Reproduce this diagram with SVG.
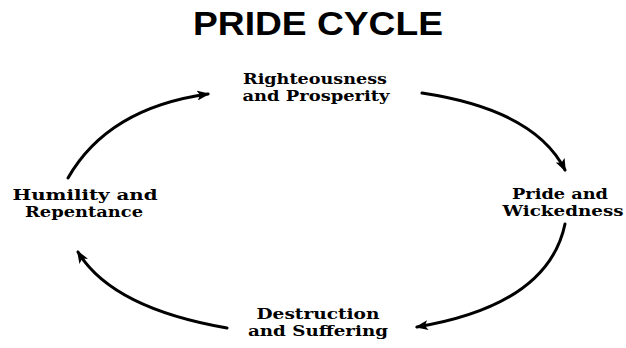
<svg xmlns="http://www.w3.org/2000/svg" width="626" height="348" viewBox="0 0 626 348">
<style>
.title{font-family:"Liberation Sans",Arial,sans-serif;font-weight:bold;font-size:33px;fill:#000}
.lbl{font-family:"DejaVu Serif","Liberation Serif",serif;font-weight:bold;font-size:14px;fill:#000}
.arc{fill:none;stroke:#000;stroke-width:3;stroke-linecap:round}
</style>
<defs>
<marker id="ah" viewBox="0 0 13 10" refX="11" refY="5" markerWidth="13" markerHeight="10" markerUnits="userSpaceOnUse" orient="auto">
<path d="M0,0 L13,5 L0,10 L3,5 Z" fill="#000"/>
</marker>
</defs>
<rect width="626" height="348" fill="#fff"/>
<text class="title" x="318" y="35" text-anchor="middle" textLength="250" lengthAdjust="spacingAndGlyphs">PRIDE CYCLE</text>
<g id="righteousness">
<text class="lbl" x="315" y="84" text-anchor="middle" textLength="144" lengthAdjust="spacingAndGlyphs">Righteousness</text>
<text class="lbl" x="316" y="101" text-anchor="middle" textLength="147" lengthAdjust="spacingAndGlyphs">and Prosperity</text>
</g>
<g id="pride">
<text class="lbl" x="560" y="199" text-anchor="middle" textLength="96" lengthAdjust="spacingAndGlyphs">Pride and</text>
<text class="lbl" x="563" y="216" text-anchor="middle" textLength="121" lengthAdjust="spacingAndGlyphs">Wickedness</text>
</g>
<g id="destruction">
<text class="lbl" x="318" y="319" text-anchor="middle" textLength="123" lengthAdjust="spacingAndGlyphs">Destruction</text>
<text class="lbl" x="318" y="336" text-anchor="middle" textLength="140" lengthAdjust="spacingAndGlyphs">and Suffering</text>
</g>
<g id="humility">
<text class="lbl" x="85" y="200" text-anchor="middle" textLength="145" lengthAdjust="spacingAndGlyphs">Humility and</text>
<text class="lbl" x="84" y="217" text-anchor="middle" textLength="118" lengthAdjust="spacingAndGlyphs">Repentance</text>
</g>
<g id="connectors">
<path class="arc" d="M68,178 Q108,108 208,94" marker-end="url(#ah)"/>
<path class="arc" d="M422,93 Q535,110 565,170" marker-end="url(#ah)"/>
<path class="arc" d="M565,224 Q548,305 417,327" marker-end="url(#ah)"/>
<path class="arc" d="M227,328 Q112,308 78,252" marker-end="url(#ah)"/>
</g>
</svg>
